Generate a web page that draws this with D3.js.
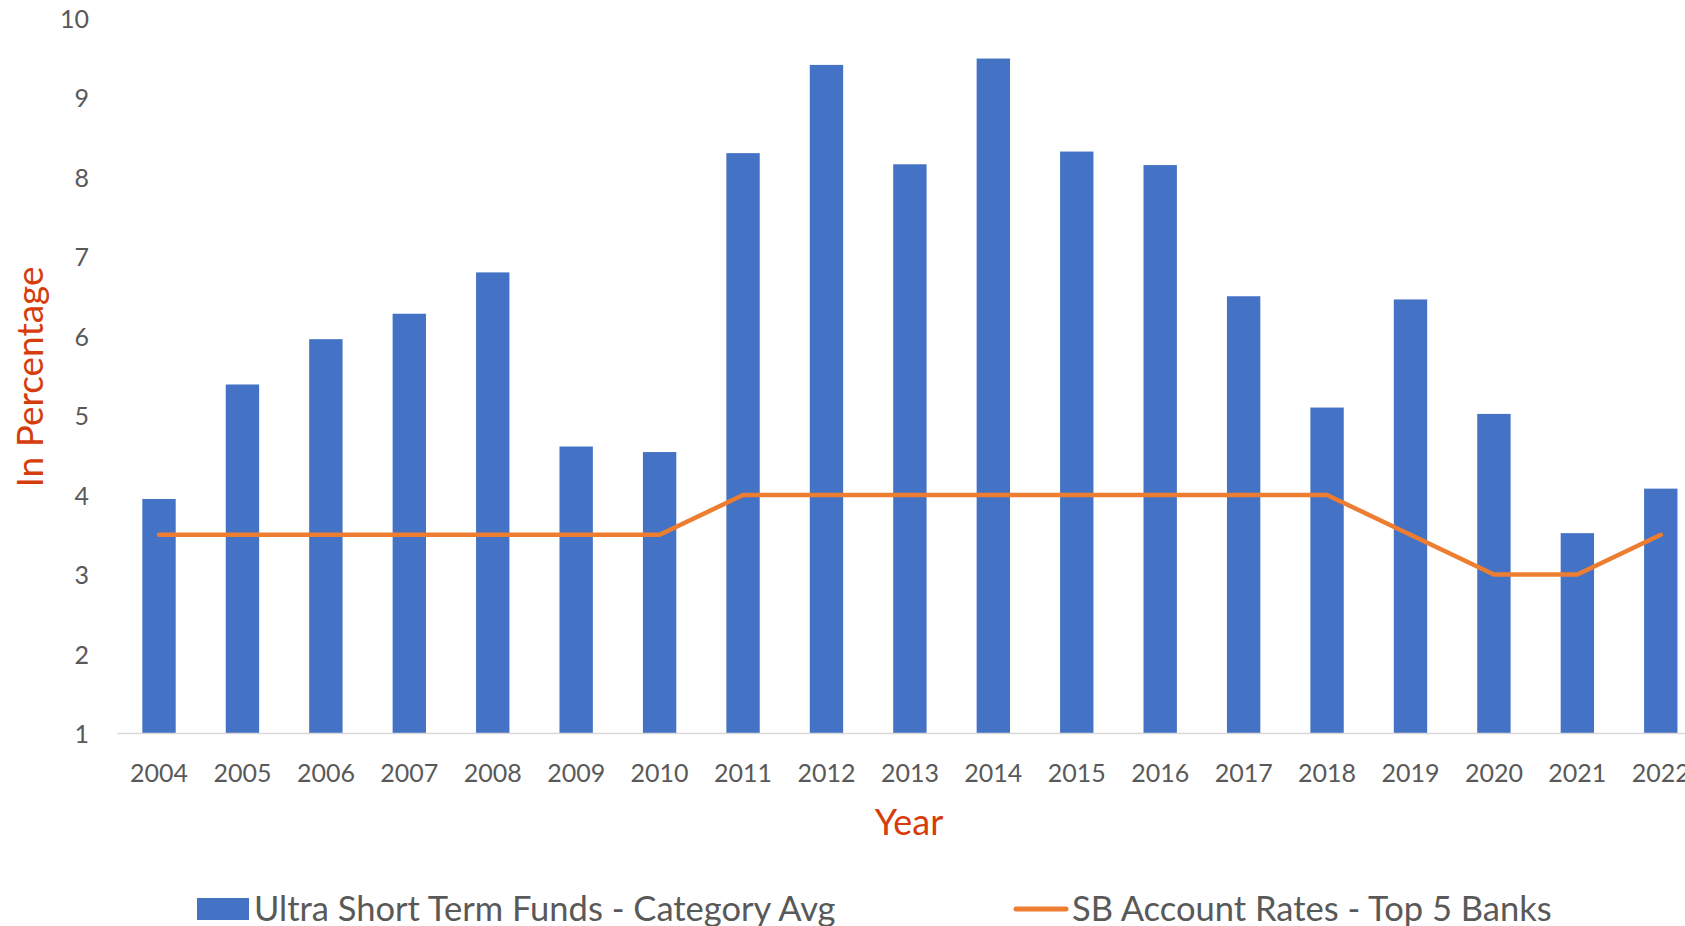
<!DOCTYPE html>
<html>
<head>
<meta charset="utf-8">
<script src="https://cdn.jsdelivr.net/npm/d3@7"></script>
<style>
  html, body { margin: 0; padding: 0; background: #fff; overflow: hidden; }
  svg { display: block; font-family: Lato, "Open Sans", sans-serif; }
</style>
</head>
<body>
<svg id="chart" width="1685" height="926"></svg>
<script>
const years = ["2004","2005","2006","2007","2008","2009","2010","2011","2012","2013","2014","2015","2016","2017","2018","2019","2020","2021","2022"];
const ultraShortFunds = [3.95, 5.39, 5.96, 6.28, 6.80, 4.61, 4.54, 8.30, 9.41, 8.16, 9.49, 8.32, 8.15, 6.50, 5.10, 6.46, 5.02, 3.52, 4.08];
const sbAccountRates = [3.5, 3.5, 3.5, 3.5, 3.5, 3.5, 3.5, 4, 4, 4, 4, 4, 4, 4, 4, 3.5, 3, 3, 3.5];
const yTicks = [1, 2, 3, 4, 5, 6, 7, 8, 9, 10];
const seriesNames = ["Ultra Short Term Funds - Category Avg", "SB Account Rates - Top 5 Banks"];

const barColor = "#4472C4", lineColor = "#ED7D31", titleColor = "#D63C0C", tickColor = "#595959";

const svg = d3.select("#chart");
const plotLeft = 117.3, plotRight = 1702.5, plotTop = 18, plotBottom = 733.5;

const x = d3.scaleBand().domain(years).range([plotLeft, plotRight]).paddingInner(0.6).paddingOuter(0.3);
const y = d3.scaleLinear().domain([1, 10]).range([plotBottom, plotTop]);

// bars
svg.append("g").selectAll("rect").data(years).join("rect")
  .attr("x", d => x(d))
  .attr("width", x.bandwidth())
  .attr("y", (d, i) => y(ultraShortFunds[i]))
  .attr("height", (d, i) => y(1) - y(ultraShortFunds[i]))
  .attr("fill", barColor);

// x axis
const xAxis = svg.append("g").attr("transform", `translate(0,${plotBottom})`)
  .call(d3.axisBottom(x).tickSize(0).tickPadding(0));
xAxis.select(".domain").attr("stroke", "#d9d9d9").attr("stroke-width", 1.5)
  .attr("d", `M${plotLeft},0H${plotRight}`);
xAxis.selectAll("text").attr("y", 48).attr("dy", null)
  .attr("fill", tickColor).style("font-size", "25px").style("font-family", "Lato, sans-serif");

// y axis
const yAxis = svg.append("g").attr("transform", `translate(89,0)`)
  .call(d3.axisLeft(y).tickValues(yTicks).tickSize(0).tickPadding(0).tickFormat(d3.format("d")));
yAxis.select(".domain").remove();
yAxis.selectAll("text").attr("x", 0).attr("dy", "0.36em")
  .attr("fill", tickColor).style("font-size", "25px").style("font-family", "Lato, sans-serif");

// line
const line = d3.line().x((d, i) => x(years[i]) + x.bandwidth() / 2).y(d => y(d));
svg.append("path").datum(sbAccountRates)
  .attr("d", line).attr("fill", "none").attr("stroke", lineColor)
  .attr("stroke-width", 4.5).attr("stroke-linejoin", "round").attr("stroke-linecap", "round");

// axis titles
svg.append("text").attr("x", 909).attr("y", 835).attr("text-anchor", "middle")
  .attr("fill", titleColor).style("font-size", "36px").text("Year");
svg.append("text").attr("transform", "translate(43,377) rotate(-90)").attr("text-anchor", "middle")
  .attr("fill", titleColor).style("font-size", "37px").text("In Percentage");

// legend
const lg = svg.append("g");
lg.append("rect").attr("x", 197).attr("y", 898).attr("width", 52).attr("height", 22).attr("fill", barColor);
lg.append("text").attr("x", 254).attr("y", 921).attr("fill", tickColor).style("font-size", "34.5px").text(seriesNames[0]);
lg.append("line").attr("x1", 1016).attr("x2", 1066).attr("y1", 909).attr("y2", 909)
  .attr("stroke", lineColor).attr("stroke-width", 5).attr("stroke-linecap", "round");
lg.append("text").attr("x", 1072).attr("y", 921).attr("fill", tickColor).style("font-size", "34.5px").text(seriesNames[1]);
</script>
</body>
</html>
